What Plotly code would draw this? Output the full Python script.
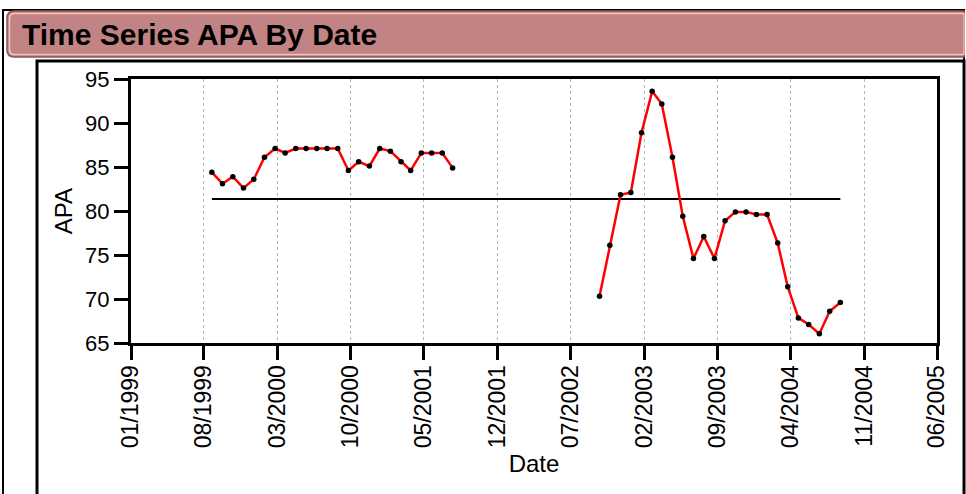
import plotly.graph_objects as go

# ---------------- data ----------------
period1_dates = ["1999-08-24", "1999-09-24", "1999-10-24", "1999-11-24", "1999-12-24",
                 "2000-01-24", "2000-02-24", "2000-03-24", "2000-04-24", "2000-05-24",
                 "2000-06-24", "2000-07-24", "2000-08-24", "2000-09-24", "2000-10-24",
                 "2000-11-24", "2000-12-24", "2001-01-24", "2001-02-24", "2001-03-24",
                 "2001-04-24", "2001-05-24", "2001-06-24", "2001-07-24"]
period1_apa = [84.4, 83.1, 83.9, 82.6, 83.6, 86.1, 87.1, 86.6, 87.1, 87.1,
               87.1, 87.1, 87.1, 84.6, 85.6, 85.1, 87.1, 86.8, 85.6, 84.6,
               86.6, 86.6, 86.6, 84.9]

period2_dates = ["2002-09-24", "2002-10-24", "2002-11-24", "2002-12-24", "2003-01-24",
                 "2003-02-24", "2003-03-24", "2003-04-24", "2003-05-24", "2003-06-24",
                 "2003-07-24", "2003-08-24", "2003-09-24", "2003-10-24", "2003-11-24",
                 "2003-12-24", "2004-01-24", "2004-02-24", "2004-03-24", "2004-04-24",
                 "2004-05-24", "2004-06-24", "2004-07-24", "2004-08-24"]
period2_apa = [70.3, 76.1, 81.85, 82.1, 88.9, 93.6, 92.15, 86.1, 79.4, 74.6,
               77.1, 74.6, 78.9, 79.9, 79.9, 79.6, 79.6, 76.35, 71.4, 67.85,
               67.1, 66.05, 68.6, 69.6]

mean_apa = 81.35

tick_dates = ["1999-01-01", "1999-08-01", "2000-03-01", "2000-10-01", "2001-05-01",
              "2001-12-01", "2002-07-01", "2003-02-01", "2003-09-01", "2004-04-01",
              "2004-11-01", "2005-06-01"]
tick_labels = ["01/1999", "08/1999", "03/2000", "10/2000", "05/2001", "12/2001",
               "07/2002", "02/2003", "09/2003", "04/2004", "11/2004", "06/2005"]
y_ticks = [65, 70, 75, 80, 85, 90, 95]

# ---------------- layout geometry (pixels) ----------------
W, H = 966, 494
PL, PR, PT, PB = 131, 937, 79, 343
FONT = "Liberation Sans, Arial, sans-serif"


def px(x):
    return (x - PL) / (PR - PL)


def py(y):
    return (PB - y) / (PB - PT)


fig = go.Figure()

# mean line
fig.add_trace(go.Scatter(x=[period1_dates[0], period2_dates[-1]], y=[mean_apa, mean_apa],
                         mode="lines", line=dict(color="black", width=2),
                         hoverinfo="skip", showlegend=False))

for dates, vals in [(period1_dates, period1_apa), (period2_dates, period2_apa)]:
    fig.add_trace(go.Scatter(x=dates, y=vals, mode="lines",
                             line=dict(color="#FF0000", width=2.5),
                             showlegend=False))
    fig.add_trace(go.Scatter(x=dates, y=vals, mode="markers",
                             marker=dict(color="black", size=5.5, symbol="circle"),
                             showlegend=False))

shapes = []
# outer thin frame
shapes.append(dict(type="rect", xref="paper", yref="paper",
                   x0=px(3), x1=px(964), y0=py(520), y1=py(10),
                   line=dict(color="black", width=2), fillcolor="rgba(0,0,0,0)", layer="below"))
# inner frame
shapes.append(dict(type="rect", xref="paper", yref="paper",
                   x0=px(37), x1=px(964), y0=py(520), y1=py(61),
                   line=dict(color="black", width=3), fillcolor="rgba(0,0,0,0)", layer="below"))


def rounded_path(x0, y0, x1, y1, r):
    # pixel coords -> paper; rounded left corners, square right side
    pts = []
    pts.append(f"M {px(x0 + r)},{py(y0)}")
    pts.append(f"L {px(x1)},{py(y0)}")
    pts.append(f"L {px(x1)},{py(y1)}")
    pts.append(f"L {px(x0 + r)},{py(y1)}")
    pts.append(f"Q {px(x0)},{py(y1)} {px(x0)},{py(y1 - r)}")
    pts.append(f"L {px(x0)},{py(y0 + r)}")
    pts.append(f"Q {px(x0)},{py(y0)} {px(x0 + r)},{py(y0)}")
    pts.append("Z")
    return " ".join(pts)


# title bar
shapes.append(dict(type="path", xref="paper", yref="paper",
                   path=rounded_path(7, 11, 964, 57, 7),
                   fillcolor="#C18383", line=dict(color="#8A5656", width=1.5)))
shapes.append(dict(type="path", xref="paper", yref="paper",
                   path=rounded_path(9.5, 13.5, 964, 54.5, 5),
                   fillcolor="rgba(0,0,0,0)", line=dict(color="#F4C2C2", width=1.5)))

fig.update_layout(
    width=W, height=H,
    margin=dict(l=PL, r=W - PR, t=PT, b=H - PB, pad=0),
    paper_bgcolor="white", plot_bgcolor="white",
    font=dict(family=FONT, color="black"),
    showlegend=False,
    shapes=shapes,
    annotations=[dict(text="<b>Time Series APA By Date</b>", xref="paper", yref="paper",
                      x=px(20), y=py(35), xanchor="left", yanchor="middle",
                      showarrow=False, font=dict(family=FONT, size=30, color="black"))],
    xaxis=dict(type="date", range=["1999-01-01", "2005-06-01"],
               tickmode="array", tickvals=tick_dates, ticktext=tick_labels,
               tickangle=-90, tickfont=dict(size=23, family=FONT),
               ticks="outside", ticklen=14, tickwidth=3, tickcolor="black",
               ticklabelstandoff=-4,
               showline=True, linecolor="black", linewidth=3, mirror=True,
               showgrid=True, gridcolor="#B4B4B4", griddash="dot", gridwidth=1.2,
               zeroline=False,
               title=dict(text="Date", font=dict(size=24, family=FONT), standoff=8)),
    yaxis=dict(range=[65, 95], tickmode="array", tickvals=y_ticks,
               tickfont=dict(size=22, family=FONT),
               ticks="outside", ticklen=14, tickwidth=3, tickcolor="black",
               showline=True, linecolor="black", linewidth=3, mirror=True,
               showgrid=False, zeroline=False,
               title=dict(text="APA", font=dict(size=24, family=FONT), standoff=6)),
)

fig.write_html("out.html", config={"displayModeBar": False},
               post_script="document.body.style.margin='0';")
